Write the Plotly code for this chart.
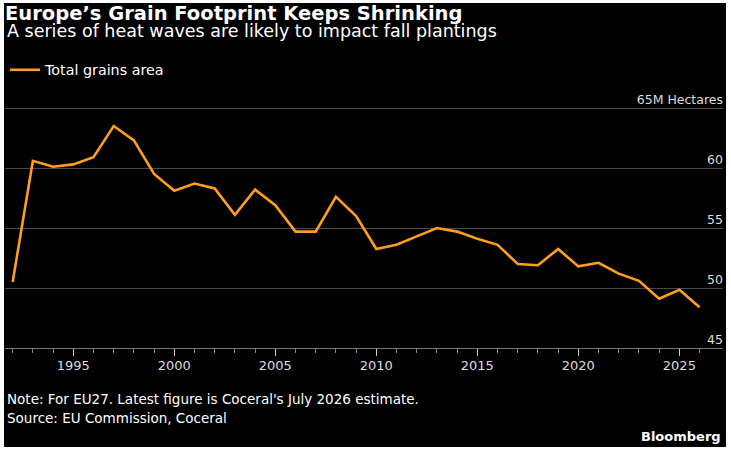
import plotly.graph_objects as go

# ---- data ----
years = list(range(1992, 2027))
total_grains_area = [50.5, 60.6, 60.1, 60.3, 60.9, 63.5, 62.3, 59.5, 58.1, 58.7,
                     58.3, 56.1, 58.2, 56.9, 54.7, 54.7, 57.6, 56.0, 53.25, 53.6,
                     54.3, 55.0, 54.7, 54.1, 53.6, 52.0, 51.9, 53.25, 51.8, 52.1,
                     51.2, 50.6, 49.1, 49.85, 48.4]
y_tickvals = [45, 50, 55, 60, 65]
y_ticktext = ["45", "50", "55", "60", "65M Hectares"]
x_tickvals = [1995, 2000, 2005, 2010, 2015, 2020, 2025]
x_ticktext = [str(v) for v in x_tickvals]

FONT = "DejaVu Sans, Verdana, sans-serif"
ORANGE = "#FF9F1C"

fig = go.Figure()
fig.add_trace(go.Scatter(
    x=years, y=total_grains_area, mode="lines", name="Total grains area",
    line=dict(color=ORANGE, width=2.6),
))

fig.update_layout(
    width=731, height=451,
    paper_bgcolor="#FFFFFF", plot_bgcolor="#000000",
    margin=dict(l=5, r=8, t=84, b=103),
    font=dict(family=FONT, color="#FFFFFF", size=14),
    title=dict(
        text="<b>Europe’s Grain Footprint Keeps Shrinking</b>",
        font=dict(family=FONT, size=19.5, color="#FFFFFF"),
        x=5 / 731, xanchor="left", xref="container",
        y=1 - 19.5 / 451, yanchor="bottom", yref="container",
    ),
    showlegend=True,
    legend=dict(
        orientation="h", x=0, xanchor="left", y=1.053, yanchor="middle",
        font=dict(family=FONT, size=14.3, color="#FFFFFF"),
        bgcolor="rgba(0,0,0,0)",
    ),
    xaxis=dict(
        range=[1991.62, 2027.16],
        tickmode="array", tickvals=x_tickvals, ticktext=x_ticktext,
        ticks="outside", ticklen=7, tickwidth=1, tickcolor="#CCCCCC",
        minor=dict(tickmode="array", tickvals=years, ticks="outside",
                   ticklen=4, tickwidth=1, tickcolor="#888888", showgrid=False),
        showline=True, linecolor="#777777", linewidth=1,
        showgrid=False, zeroline=False,
        tickfont=dict(family=FONT, size=13, color="#DDDDDD"),
        ticklabelstandoff=-2,
    ),
    # value axis anchored at the right edge, labels right-aligned above gridlines
    yaxis=dict(
        range=[45, 67], side="left", anchor="free", position=1,
        tickmode="array", tickvals=y_tickvals, ticktext=y_ticktext,
        ticklabelposition="outside top", ticks="",
        showgrid=True, gridcolor="#4A4A4A", gridwidth=1,
        zeroline=False, showline=False,
        tickfont=dict(family=FONT, size=12.5, color="#DDDDDD"),
    ),
    shapes=[
        dict(type="rect", xref="paper", yref="paper", layer="below",
             x0=-0.0014, x1=1.0042, y0=-0.375, y1=1.3068,
             fillcolor="#000000", line=dict(width=0)),
    ],
    annotations=[
        dict(text="A series of heat waves are likely to impact fall plantings",
             xref="paper", yref="paper", x=0, y=1.1991, xanchor="left", yanchor="middle",
             showarrow=False, font=dict(family=FONT, size=17.5, color="#FFFFFF")),
        dict(text="Note: For EU27. Latest figure is Coceral's July 2026 estimate.",
             xref="paper", yref="paper", x=0, y=-0.1943, xanchor="left", yanchor="middle",
             align="left", showarrow=False,
             font=dict(family=FONT, size=13.5, color="#FFFFFF")),
        dict(text="Source: EU Commission, Coceral",
             xref="paper", yref="paper", x=0, y=-0.2663, xanchor="left", yanchor="middle",
             align="left", showarrow=False,
             font=dict(family=FONT, size=13.5, color="#FFFFFF")),
        dict(text="<b>Bloomberg</b>",
             xref="paper", yref="paper", x=1, y=-0.3352, xanchor="right", yanchor="middle",
             showarrow=False,
             font=dict(family=FONT, size=13, color="#FFFFFF")),
    ],
)

fig.write_html("out.html",
               config={"displayModeBar": False},
               post_script="document.body.style.margin='0';document.body.style.overflow='hidden';")
